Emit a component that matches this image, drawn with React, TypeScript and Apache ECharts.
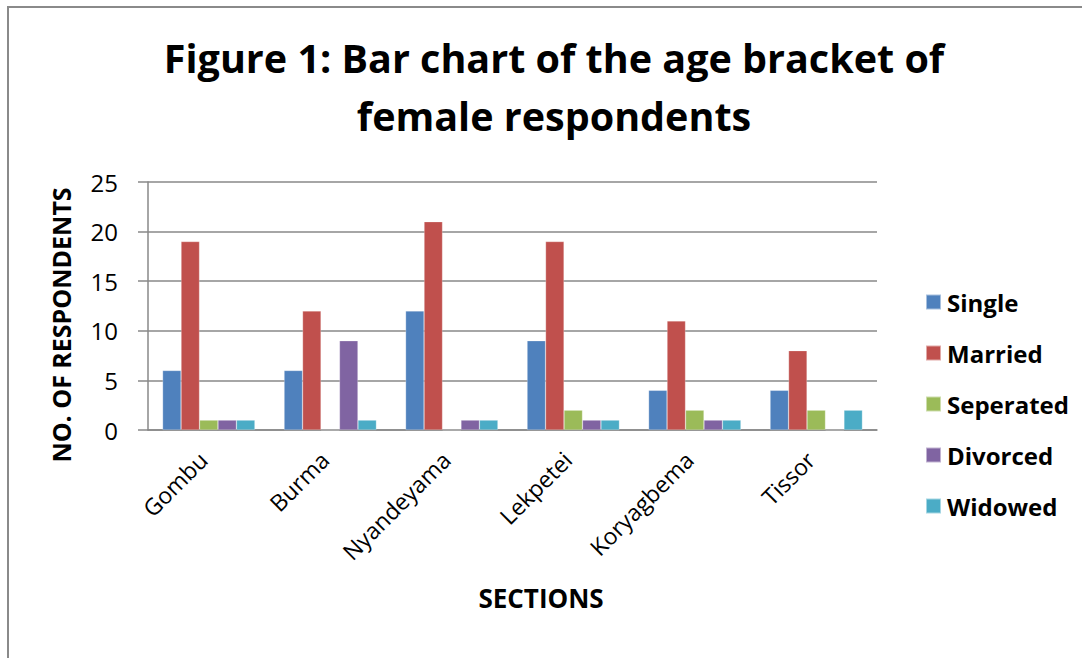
import React, { useEffect, useRef } from "react";
import * as echarts from "echarts";

const categories = ["Gombu", "Burma", "Nyandeyama", "Lekpetei", "Koryagbema", "Tissor"];
const single = [6, 6, 12, 9, 4, 4];
const married = [19, 12, 21, 19, 11, 8];
const seperated = [1, 0, 0, 2, 2, 2];
const divorced = [1, 9, 1, 1, 1, 0];
const widowed = [1, 1, 1, 1, 1, 2];
const seriesNames = ["Single", "Married", "Seperated", "Divorced", "Widowed"];
const colors = ["#4F81BD", "#C0504D", "#9BBB59", "#8064A2", "#4BACC6"];

const FONT = "'Open Sans', 'Noto Sans', sans-serif";

export default function App() {
  const ref = useRef<HTMLDivElement>(null);
  useEffect(() => {
    if (!ref.current) return;
    const chart = echarts.init(ref.current, undefined, { renderer: "svg" });
    const data = [single, married, seperated, divorced, widowed];
    chart.setOption({
      animation: false,
      color: colors,
      graphic: [
        {
          type: "rect",
          shape: { x: 8, y: 7, width: 1200, height: 800 },
          style: { fill: "none", stroke: "#8a8a8a", lineWidth: 2 },
          silent: true,
        },
        {
          type: "text",
          x: 541,
          y: 598,
          style: {
            text: "SECTIONS",
            align: "center",
            verticalAlign: "middle",
            fontFamily: FONT,
            fontWeight: "bold",
            fontSize: 26,
            fill: "#000",
          },
          silent: true,
        },
        {
          type: "text",
          x: 61,
          y: 325,
          rotation: Math.PI / 2,
          style: {
            text: "NO. OF RESPONDENTS",
            align: "center",
            verticalAlign: "middle",
            fontFamily: FONT,
            fontWeight: "bold",
            fontSize: 25,
            fill: "#000",
          },
          silent: true,
        },
      ],
      title: {
        text: "Figure 1: Bar chart of the age bracket of\nfemale respondents",
        left: 549,
        top: 24,
        textAlign: "center",
        textStyle: {
          fontFamily: FONT,
          fontWeight: "bold",
          fontSize: 39.5,
          lineHeight: 58,
          color: "#000",
        },
      },
      legend: {
        orient: "vertical",
        left: 920,
        top: 285,
        itemWidth: 15,
        itemHeight: 15,
        itemGap: 27,
        icon: "rect",
        textStyle: {
          fontFamily: FONT,
          fontWeight: "bold",
          fontSize: 24,
          lineHeight: 24,
          color: "#000",
          padding: [0, 0, 0, 1],
        },
        data: seriesNames,
      },
      grid: { left: 148, right: 205, top: 182, bottom: 228, containLabel: false },
      xAxis: {
        type: "category",
        data: categories,
        axisLine: { lineStyle: { color: "#888", width: 1.5 } },
        axisTick: { show: false },
        axisLabel: {
          rotate: 45,
          fontFamily: FONT,
          fontSize: 23,
          color: "#000",
          margin: 20,
          padding: [0, 8, 0, 0],
        },
      },
      yAxis: {
        type: "value",
        min: 0,
        max: 25,
        interval: 5,
        axisLine: { show: true, lineStyle: { color: "#888", width: 1.5 } },
        axisTick: { show: true, length: 10, inside: false, lineStyle: { color: "#888", width: 1.5 } },
        axisLabel: { fontFamily: FONT, fontSize: 24, color: "#000", margin: 30 },
        splitLine: { lineStyle: { color: "#888", width: 1.5 } },
      },
      series: seriesNames.map((n, i) => ({
        name: n,
        type: "bar",
        data: data[i],
        barGap: "0%",
        barCategoryGap: "24%",
        itemStyle: { borderColor: "rgba(255,255,255,0.5)", borderWidth: 0.5 },
      })),
    });
    return () => chart.dispose();
  }, []);
  return <div ref={ref} style={{ width: 1082, height: 658, position: "absolute", left: 0, top: 0 }} />;
}
